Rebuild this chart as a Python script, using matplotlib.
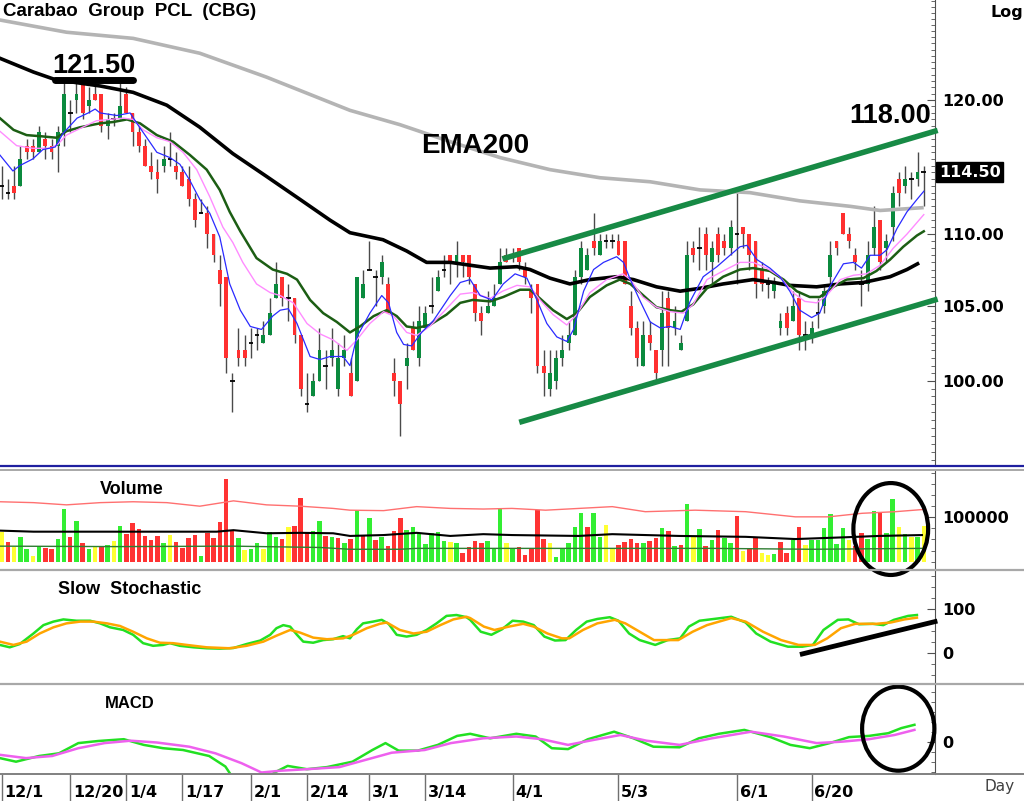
import numpy as np
import matplotlib
matplotlib.use('Agg')
import matplotlib.pyplot as plt
import matplotlib.transforms as mtransforms
from matplotlib.lines import Line2D
from matplotlib.patches import Ellipse
from matplotlib.ticker import MultipleLocator, NullFormatter

# daily candles (price in baht)
opens = [113.5, 113, 113.5, 113.5, 116.5, 116.5, 116, 117, 116.5, 116.5,
         117.5, 119, 120, 121.5, 119.5, 120.5, 120.5, 118, 118.5, 118.5,
         120.5, 119, 117.5, 116.5, 115, 114.5, 115, 115.5, 115, 114.5,
         114, 112.5, 111.5, 111.5, 110, 107.5, 107, 100, 102, 102,
         102.5, 103, 102.5, 103, 105.5, 107, 105.5, 105.5, 103, 98.5,
         99, 100, 101, 101.5, 99.5, 101.5, 100.5, 100, 105.5, 107.5,
         107, 107, 106.5, 100.5, 100, 101, 103.5, 101.5, 103.5, 105,
         106, 107.5, 108.5, 108, 108.5, 108.5, 106.5, 104.5, 104.5, 105,
         106.5, 108.5, 108.5, 109, 107.5, 106, 106.5, 101, 99.5, 100,
         101.5, 102.5, 103, 107, 107.5, 109.5, 108.5, 109.5, 109.5, 109.5,
         109.5, 105, 103.5, 101, 103, 102, 102, 105.5, 103.5, 102,
         104, 109, 109, 110, 108, 110, 109.5, 109, 110, 110.5,
         110, 109.5, 107.5, 106.5, 106, 103.5, 104.5, 104, 105.5, 103,
         103, 104.5, 105, 107, 109.5, 111.5, 110, 108.5, 106.5, 106.5,
         109, 111, 109, 110.5, 114, 113.5, 114, 114, 114.5]
highs = [115, 114, 115, 116.5, 117, 117, 118, 117.5, 117, 118,
         121.5, 120, 121.5, 121.5, 121, 121.5, 120.5, 119, 119, 121.5,
         121, 119, 118, 117, 116, 115.5, 116.5, 117.5, 116, 115,
         115, 113, 112.5, 112, 110, 108.5, 107, 100.5, 103.5, 103,
         103.5, 103.5, 104, 105.5, 108, 107, 106.5, 105.5, 103, 100.5,
         100.5, 103.5, 102, 103.5, 102.5, 103, 101.5, 107, 107.5, 109.5,
         107.5, 108.5, 107, 101.5, 100, 102.5, 104, 105, 105, 107,
         107.5, 108.5, 108.5, 109.5, 108.5, 108.5, 106.5, 105, 106, 106.5,
         109, 109, 109, 109, 108, 106.5, 106.5, 102, 102, 102,
         103, 104, 107.5, 109.5, 109, 111.5, 110, 110, 110, 110,
         109.5, 106, 104, 104, 104, 102, 106, 106, 105, 103,
         109.5, 109.5, 110.5, 110.5, 109.5, 110.5, 110, 111, 113, 110.5,
         110, 109.5, 108, 107, 107, 104.5, 105, 106, 106, 104,
         104, 105.5, 106.5, 109.5, 109.5, 111.5, 110.5, 109, 107.5, 109.5,
         112, 111, 110, 113.5, 114.5, 115, 114.5, 116, 115]
lows = [112.5, 112.5, 112.5, 113.5, 115.5, 115.5, 116, 115.5, 115.5, 114.5,
        116.5, 117.5, 119, 118.5, 119, 120, 117.5, 117, 118, 118.5,
        119, 116.5, 116, 115, 114, 113, 114.5, 115, 114, 113.5,
        112, 110.5, 111.5, 109, 108, 105, 100.5, 98, 101, 101,
        101.5, 102, 102.5, 103, 105.5, 105, 104, 102.5, 99, 98,
        99, 100, 99.5, 101, 99, 101, 99, 100, 105.5, 107.5,
        105, 106.5, 104.5, 99, 96.5, 99.5, 102, 101, 103.5, 104.5,
        106, 107, 106.5, 107, 107, 106.5, 104, 103, 104.5, 105,
        106.5, 108, 108, 107.5, 106.5, 104.5, 100.5, 99, 99, 99.5,
        101, 102, 103, 106.5, 107.5, 108.5, 108.5, 109, 109, 108.5,
        106.5, 103, 101, 101, 102, 100, 101, 101, 103, 102,
        104, 108, 107.5, 107.5, 106.5, 108, 108.5, 108.5, 106.5, 109,
        107.5, 105.5, 106, 105.5, 105.5, 103, 103, 104, 102, 102,
        102.5, 103.5, 104.5, 106.5, 108.5, 110, 109, 107.5, 105, 106,
        108.5, 107.5, 108, 109.5, 112, 113, 112.5, 113.5, 112]
closes = [113.5, 113, 113, 115.5, 116, 116, 117.5, 116.5, 116, 117.5,
          120.5, 119, 120.5, 119, 120, 120, 118, 118.5, 118.5, 119.5,
          119, 117.5, 116.5, 115, 114.5, 114, 115.5, 115.5, 114.5, 113.5,
          112.5, 111, 111.5, 110, 108.5, 106.5, 101.5, 100, 101.5, 101.5,
          102.5, 103, 103, 104.5, 106.5, 105.5, 105.5, 103, 99.5, 98.5,
          100, 102, 101, 102, 101.5, 102, 99, 107, 106.5, 107.5,
          107, 108, 104.5, 100, 98.5, 101.5, 102, 104, 104.5, 105,
          107, 107.5, 108, 108.5, 108, 107, 104.5, 104, 105, 105.5,
          108, 108, 108.5, 108, 107, 105.5, 101, 100.5, 100.5, 101.5,
          102, 103, 107, 109, 108.5, 109, 109.5, 109.5, 109.5, 108.5,
          106.5, 103.5, 101.5, 103, 102.5, 100.5, 104.5, 103.5, 104, 102.5,
          108.5, 108.5, 109, 108.5, 109, 108.5, 109, 110.5, 110, 110,
          108.5, 106.5, 106.5, 106.5, 106.5, 104, 103.5, 105, 103, 103,
          103.5, 104.5, 106, 108.5, 109, 110, 109.5, 108, 106.5, 108.5,
          110.5, 108, 109.5, 113, 113, 114, 114, 114.5, 114.5]

# volume in thousands of shares, with the bar colour code (g up, r down, y unchanged)
volume_k = [67.6, 45, 32, 56, 28, 13.5, 32, 31.5, 28.5, 51,
            118.6, 55, 91, 43, 28.5, 32, 35, 37.5, 46.5, 80,
            61.5, 87, 73, 57, 49, 58, 43, 60, 45, 31.5,
            52.5, 60, 12.8, 65, 52.5, 90, 185.4, 71, 52.5, 26,
            28.5, 41, 28.5, 66, 55, 50, 79, 81, 142.6, 67.6,
            69, 91, 58, 56, 52.5, 43, 50, 116, 58, 97.6,
            49, 55, 35, 69, 97.6, 71, 79, 64, 39, 65,
            67.6, 47, 43.5, 41, 19, 32, 47, 43, 47, 30,
            120, 43, 30, 32, 15, 28, 116, 51, 41, 11,
            28, 43, 79, 109, 79, 110, 56, 82.6, 30, 37.5,
            45, 51, 41, 43, 46.5, 52.5, 75, 69, 35, 37.5,
            130, 55, 73.6, 35, 49, 71, 54, 41, 103, 25,
            30, 55, 19, 15, 17, 45, 20, 49, 79, 37.5,
            49, 49, 75, 107, 39, 77, 49, 35, 64, 51,
            114, 109, 65, 141, 79, 62, 55, 56, 80]
volume_tone = ''.join([
    'yryggygrrg', 'grgrgyrgyg', 'rrrrrrgyrr', 'rrgrrrrrgy', 'ggyggryrrr',
    'ggrgrgrgrg', 'rgrrrggggg', 'ggygrrrrgg', 'gy',
    'grrrrryggg', 'ggrggyyrrr', 'rgrrgrgrgy', 'grgrggryrr', 'yygrrgrygg',
    'ggggyrrggr', 'ggygygy'])

# moving averages on the price panel: (bar position, price)
blue_x = [-0.3, 1.8, 2.9, 5.0, 6.6, 8.6, 9.8, 12.1, 13.9, 15.0, 15.8, 18.5, 20.6, 21.7, 23.3,
          24.9, 27.0, 28.6, 30.2, 31.8, 33.4, 35.0, 36.6, 38.3, 39.9, 41.7, 43.5, 44.7, 46.0,
          47.4, 49.5, 51.1, 52.7, 54.8, 55.9, 57.0, 59.1, 61.0, 62.1, 63.4, 64.5, 65.8, 67.4,
          69.3, 72.0, 73.6, 75.2, 76.8, 78.7, 80.5, 82.4, 84.3, 85.9, 87.5, 89.1, 90.7, 91.8,
          93.4, 95.0, 96.6, 98.7, 99.8, 100.9, 102.5, 104.1, 105.7, 107.3, 108.9, 110.5, 112.6,
          114.8, 116.9, 118.5, 119.6, 121.2, 123.3, 124.9, 126.5, 128.1, 130.0, 131.3, 132.9,
          135.1, 136.7, 138.0, 139.4, 141.0, 142.1, 143.7, 145.3, 146.9, 148.0]
blue_y = [115.8, 114.6, 115, 115.5, 116.2, 116.4, 117.4, 118.6, 119, 119.3, 119, 118.8, 119, 118.2,
          117.1, 116, 115.6, 115.1, 113.9, 112.5, 111.5, 109.8, 106.5, 104.7, 103.6, 103.4, 104.3,
          104.7, 104.8, 103.8, 101.6, 101.4, 101.6, 101.6, 101, 102.9, 104.5, 105.7, 105.2, 103.2,
          102.4, 102.3, 103.2, 104, 105.7, 106.6, 106.8, 105.7, 105.4, 106.5, 107.2, 106.9, 105.4,
          103.8, 102.9, 102.6, 103.4, 106, 107.5, 108, 108.4, 108, 106.8, 105.3, 103.9, 103.5,
          103.6, 103.4, 105.3, 107, 107.7, 108.5, 109.1, 109.2, 108.2, 107.6, 107, 106, 104.7,
          104.2, 104.5, 106.3, 107.9, 108, 107.6, 108.5, 108.5, 108.9, 110.4, 111.6, 112.5, 113.1]
pink_x = [-0.3, 2.4, 5.0, 7.8, 9.0, 10.4, 13.0, 15.2, 17.4, 19.5, 21.1, 22.7, 24.9, 27.0, 29.1,
          31.3, 33.4, 35.5, 37.1, 38.7, 40.9, 43.1, 44.7, 46.8, 49.0, 51.1, 53.2, 55.4, 57.0,
          59.1, 61.3, 62.9, 65.0, 66.6, 68.7, 71.4, 73.6, 75.6, 78.4, 80.4, 82.7, 84.8, 86.4,
          88.5, 90.7, 92.3, 94.4, 97.1, 99.7, 100.9, 102.9, 105.1, 107.3, 109.4, 111.0, 113.2,
          115.8, 118.5, 120.6, 122.8, 124.9, 127.0, 128.9, 130.8, 132.4, 134.6, 136.7, 138.8,
          141.0, 143.1, 145.3, 148.0]
pink_y = [117.6, 116.5, 116.3, 116.3, 116.6, 117.3, 117.9, 118.4, 118.5, 118.6, 118.5, 117.7,
          117.1, 116.8, 116, 114.7, 112.7, 110.5, 109.4, 108, 106.5, 105.9, 105.7, 105.2, 103.8,
          103.1, 102.7, 102, 102.7, 103.8, 104.6, 104.3, 103.2, 103, 103.6, 104.8, 105.8, 105.9,
          105.5, 106, 106.4, 106.3, 105.4, 104.4, 103.7, 104.4, 105.9, 106.8, 107.2, 106.8, 105.6,
          104.9, 104.6, 104.5, 105.1, 106.8, 107.4, 108, 108, 107.6, 107, 105.9, 105.3, 105.2,
          105.7, 106.8, 107.1, 107.2, 107.8, 109, 110, 111.4]
green_x = [-0.3, 1.9, 4.0, 6.6, 8.8, 10.4, 12.6, 15.8, 17.9, 20.1, 22.2, 24.9, 27.5, 30.2, 32.9,
           35.0, 36.6, 38.3, 40.9, 43.5, 45.8, 47.4, 49.5, 51.6, 53.8, 55.9, 57.5, 59.7, 61.8,
           63.4, 65.0, 66.6, 68.7, 71.4, 73.6, 75.6, 78.4, 80.5, 83.2, 84.8, 86.4, 88.5, 90.7,
           92.3, 94.4, 97.1, 99.2, 100.9, 103.0, 105.1, 107.3, 109.1, 111.0, 113.2, 115.8, 118.5,
           120.6, 123.3, 125.5, 127.6, 129.7, 131.3, 133.5, 135.6, 138.3, 140.4, 142.6, 144.7,
           146.9, 148.0]
green_y = [118.6, 117.7, 117.3, 117.2, 117.1, 117.6, 117.9, 118.2, 118.3, 118.5, 118.2, 117.3,
           116.8, 115.8, 114.7, 113.2, 111.6, 110.2, 108.3, 107.5, 107.2, 106.8, 105.4, 104.5,
           103.9, 103.2, 103.6, 104.3, 104.7, 104.3, 103.6, 103.5, 103.7, 104.4, 105.2, 105.4,
           105.3, 105.6, 106.1, 106.1, 105.5, 104.7, 104.1, 104.5, 105.6, 106.4, 106.8, 106.5,
           105.7, 104.9, 104.7, 104.6, 105.1, 106.2, 107, 107.5, 107.6, 107.4, 106.8, 106, 105.6,
           105.6, 106.3, 106.8, 106.9, 107.4, 108.2, 109.1, 109.9, 110.2]
black_x = [-0.3, 5.1, 8.6, 15.8, 21.1, 26.5, 31.8, 37.1, 42.5, 47.9, 52.7, 55.9, 61.2, 65.0, 68.2,
           72.0, 75.2, 78.4, 82.7, 84.8, 88.0, 91.2, 94.4, 98.7, 101.4, 105.1, 108.9, 112.1,
           115.8, 120.6, 123.9, 126.5, 130.8, 134.6, 138.3, 142.6, 145.3, 147.0]
black_y = [123.3, 122.2, 121.6, 121.1, 120.6, 119.6, 117.9, 115.9, 114.2, 112.5, 111, 110.1,
           109.6, 108.8, 108, 108, 107.8, 107.6, 107.7, 107.5, 106.9, 106.5, 106.8, 107, 106.8,
           106.3, 106, 106.2, 106.5, 106.8, 106.6, 106.4, 106.3, 106.5, 106.6, 107, 107.5, 107.9]
ema200_x = [-0.3, 10.4, 21.1, 31.8, 42.5, 55.9, 63.9, 72.0, 80.0, 88.0, 96.0, 104.1, 112.1,
            120.1, 128.1, 136.2, 141.0, 147.7]
ema200_y = [126.4, 125.4, 124.9, 123.7, 121.8, 119.2, 118.1, 116.8, 115.6, 114.7, 114.1, 113.8,
            113.2, 113, 112.4, 112, 111.7, 111.9]

# volume averages (thousands)
vol_red_x = [-0.3, 5.1, 10.4, 15.8, 21.1, 26.5, 31.8, 37.2, 42.5, 47.9, 53.2, 55.9, 61.3, 66.6,
             72.0, 77.3, 81.9, 87.3, 98.0, 103.3, 111.3, 119.4, 127.4, 132.7, 138.1, 143.4, 148.3]
vol_red_y = [135, 133, 128, 133, 135, 133, 125, 137, 128, 125, 120, 116, 115, 124, 120, 118.6,
             120, 116, 124, 112.6, 116, 112.6, 101, 101, 109, 112.6, 118]
vol_black_x = [-0.3, 5.1, 15.8, 26.5, 34.5, 37.2, 42.5, 47.9, 53.2, 55.9, 61.3, 66.6, 72.0, 77.3,
               81.9, 92.6, 98.0, 108.7, 119.4, 127.4, 135.4, 140.8, 147.7]
vol_black_y = [70, 67.6, 67.6, 67.6, 67.6, 71, 64, 65, 64, 58, 60, 65, 58, 62, 60, 58, 62, 58,
               56, 51, 55, 58, 60]
vol_green_x = [-0.3, 18.5, 37.2, 51.1, 55.9, 63.9, 66.6, 81.6, 98.0, 114.0, 130.1, 147.7]
vol_green_y = [35, 34, 35, 32, 28, 28, 30, 30, 30, 30, 28, 30]

# slow stochastic %K / %D
stoch_k_x = [-0.3, 1.3, 2.9, 5.1, 6.7, 8.3, 9.9, 12.0, 14.2, 15.8, 17.4, 19.5, 21.1, 22.7, 24.3,
             25.9, 27.0, 28.6, 30.8, 32.9, 35.0, 37.2, 39.3, 41.5, 43.1, 44.1, 45.2, 46.3, 47.4,
             48.4, 50.0, 51.6, 53.2, 54.8, 55.9, 57.0, 58.0, 59.6, 61.0, 62.1, 63.4, 65.0, 66.6,
             68.2, 69.8, 71.4, 73.0, 74.6, 75.2, 76.9, 78.6, 80.3, 82.0, 83.7, 85.4, 87.1, 88.8,
             90.5, 92.2, 93.9, 95.6, 97.6, 99.0, 100.7, 102.4, 104.9, 106.9, 108.9, 110.3, 112.0,
             114.3, 117.1, 119.4, 121.1, 123.4, 126.2, 128.5, 130.2, 131.9, 134.2, 135.9, 137.6,
             139.8, 141.5, 143.2, 145.5, 146.9]
stoch_k = [19, 13.6, 21, 45, 64, 72, 77, 74, 74, 68, 59, 53, 42, 23, 17, 19, 23, 17, 13.6, 11.4,
           10.6, 12, 21, 29, 42, 57, 64, 60.6, 42, 26.5, 24, 30, 32, 39, 34, 54.5, 68, 72, 76, 67,
           42, 38, 42, 53, 68, 85, 87, 82, 76, 49, 42, 54.5, 74, 72, 64, 38, 29, 30, 53, 72, 78, 82,
           74, 45, 30, 19, 30, 34, 60.6, 74, 78, 83, 70, 45, 26.5, 15, 15, 19, 53, 76, 77, 66, 67,
           64, 76, 85, 87]
stoch_d_x = [-0.3, 1.9, 4.0, 6.1, 8.3, 10.4, 12.6, 14.7, 16.9, 19.0, 21.1, 23.3, 25.4, 27.5, 29.7,
             32.9, 36.6, 39.3, 42.0, 44.1, 46.3, 47.9, 50.0, 52.2, 54.8, 56.4, 58.6, 60.7, 61.8,
             63.9, 66.1, 68.2, 70.4, 72.5, 74.6, 75.2, 77.4, 79.1, 81.4, 83.7, 85.4, 87.6, 89.9,
             91.1, 93.3, 95.6, 98.4, 100.1, 102.4, 104.7, 108.6, 110.9, 113.2, 117.1, 119.4, 122.2,
             125.1, 127.9, 130.5, 132.5, 134.7, 137.0, 140.4, 142.7, 144.9, 146.9]
stoch_d = [26.5, 19, 26.5, 45, 59, 68, 72, 72, 68, 62, 49, 34, 24, 23, 19, 13.6, 11.4, 17, 26.5,
           40, 53, 47, 35.6, 32, 34, 42, 57, 67, 70, 53, 45, 49, 64, 77, 83, 80, 60.6, 53, 60.6,
           67, 60.6, 45, 34, 34, 53, 68, 76, 68, 49, 30, 30, 49, 64, 80, 72, 49, 30, 19, 19, 34,
           57, 67, 67, 70, 77, 81]

# MACD and signal line
macd_x = [-0.3, 2.3, 6.0, 9.2, 12.3, 15.5, 19.6, 22.8, 25.9, 29.1, 33.3, 35.9, 37.4, 40.7, 43.8,
          45.9, 49.0, 52.2, 56.3, 59.5, 61.6, 63.7, 66.8, 70.0, 73.1, 75.2, 78.4, 82.6, 85.7,
          88.3, 90.9, 94.1, 98.3, 101.4, 104.6, 108.8, 111.9, 115.1, 119.2, 123.4, 126.6, 129.7,
          132.9, 136.0, 139.2, 142.3, 144.4, 146.5]
macd = [-0.55, -0.67, -0.48, -0.39, -0.05, 0.02, 0.08, -0.11, -0.22, -0.28, -0.48, -0.83, -1.3,
        -1.5, -1.03, -0.81, -0.92, -0.85, -0.67, -0.28, -0.05, -0.3, -0.3, -0.11, 0.19, 0.26,
        0.11, 0.26, 0.17, -0.22, -0.25, 0.08, 0.33, 0.11, -0.17, -0.19, 0.11, 0.26, 0.39, 0.15,
        -0.11, -0.22, -0.05, 0.15, 0.19, 0.28, 0.45, 0.56]
signal_x = [-0.3, 3.9, 8.1, 12.3, 16.5, 20.7, 24.9, 30.1, 34.3, 38.5, 41.7, 44.8, 49.0, 54.2,
            58.4, 62.6, 67.9, 72.1, 77.3, 82.6, 86.7, 90.9, 95.1, 99.3, 103.5, 108.8, 114.0,
            120.3, 125.5, 130.8, 135.0, 139.2, 143.3, 146.5]
signal = [-0.44, -0.55, -0.48, -0.22, -0.05, 0.03, -0.03, -0.17, -0.39, -0.72, -1.03, -0.97,
          -0.92, -0.85, -0.61, -0.37, -0.28, -0.05, 0.11, 0.17, 0.08, -0.11, 0.06, 0.22, 0.03,
          -0.11, 0.11, 0.33, 0.17, -0.05, 0.0, 0.08, 0.22, 0.39]

date_pos = [0, 11, 20, 29, 40, 49, 59, 68, 82, 99, 118, 130]
date_labels = ['12/1', '12/20', '1/4', '1/17', '2/1', '2/14', '3/1', '3/14', '4/1', '5/3', '6/1', '6/20']

# hand-drawn annotations, in chart units
channel_upper = ([80.8, 149.8], [108.3, 117.6])
channel_lower = ([83.5, 149.8], [97.4, 105.4])
stoch_trend = ([128.5, 149.8], [-1.5, 72])

plt.rcParams['font.family'] = 'DejaVu Sans'
plt.rcParams['font.weight'] = 'bold'

W, H = 1024, 801
fig = plt.figure(figsize=(W / 100, H / 100), dpi=100)


def panel(top, bottom):
    ax = fig.add_axes([0, 1 - bottom / H, 935 / W, (bottom - top) / H])
    ax.set_facecolor('none')
    for s in ('top', 'left', 'bottom'):
        ax.spines[s].set_visible(False)
    ax.spines['right'].set_color('#505050')
    ax.yaxis.tick_right()
    ax.tick_params(axis='y', which='major', direction='in', length=6, pad=5.5,
                   labelsize=11.5, colors='#505050', labelcolor='black')
    ax.tick_params(axis='y', which='minor', direction='in', length=3, colors='#505050')
    ax.tick_params(axis='x', bottom=False, labelbottom=False)
    ax.set_xlim(-0.27, 149.8)
    return ax


ax = panel(0, 466)
axv = panel(470, 570)
axs = panel(570, 684)
axm = panel(684, 774)

# ---- price panel
bars = np.arange(len(closes))
o, hi, lo, c = map(np.array, (opens, highs, lows, closes))
up, dn, flat = c > o, c < o, c == o
ax.set_yscale('log')
ax.vlines(bars, lo, hi, color='#4a4a4a', lw=1, zorder=2)
ax.bar(bars[up], (c - o)[up], bottom=o[up], width=0.62, color='#0b8a3e', zorder=3)
ax.bar(bars[dn], (o - c)[dn], bottom=c[dn], width=0.62, color='#ff3030', zorder=3)
ax.hlines(c[flat], bars[flat] - 0.38, bars[flat] + 0.38, color='black', lw=1.3, zorder=3)

ax.plot(ema200_x, ema200_y, color='#b4b4b4', lw=2.6, zorder=4)
ax.plot(black_x, black_y, color='black', lw=2.6, zorder=4)
ax.plot(green_x, green_y, color='#1c5e14', lw=1.8, zorder=4)
ax.plot(pink_x, pink_y, color='#ff8cff', lw=1.0, zorder=4)
ax.plot(blue_x, blue_y, color='#2a2aff', lw=0.9, zorder=4)

ax.plot(*channel_upper, color='#178a45', lw=4, zorder=5, clip_on=False)
ax.plot(*channel_lower, color='#178a45', lw=4, zorder=5, clip_on=False)
ax.plot([8.6, 21.1], [121.6, 121.6], color='black', lw=5, solid_capstyle='round', zorder=5)
ax.text(14.8, 122.7, '121.50', ha='center', va='center', family='Liberation Sans', size=19.5,
        zorder=7)
ax.text(76, 116.5, 'EMA200', ha='center', va='center', family='Liberation Sans', size=20,
        zorder=7)
ax.text(142.6, 118.8, '118.00', ha='center', va='center', family='Liberation Sans', size=19.5,
        zorder=7)

ax.set_ylim(94.63, 128.05)
ax.set_yticks([100, 105, 110, 120], ['100.00', '105.00', '110.00', '120.00'])
ax.set_yticks(np.arange(95, 128.5, 0.5), minor=True)
ax.yaxis.set_minor_formatter(NullFormatter())
last_tf = mtransforms.blended_transform_factory(ax.transAxes, ax.transData)
ax.text(1.004, closes[-1], f'{closes[-1]:.2f}', transform=last_tf, color='white', size=11.5,
        va='center', ha='left', zorder=7,
        bbox=dict(facecolor='black', edgecolor='black', boxstyle='square,pad=0.15'))

# ---- volume panel
vol = np.array(volume_k) * 1000
tone = {'g': '#33ee33', 'r': '#ff3333', 'y': '#ffff33'}
axv.bar(bars, vol, width=0.72, color=[tone[t] for t in volume_tone], zorder=2)
axv.plot(vol_red_x, np.array(vol_red_y) * 1000, color='#ff7070', lw=1.0, zorder=3)
axv.plot(vol_black_x, np.array(vol_black_y) * 1000, color='black', lw=1.5, zorder=3)
axv.plot(vol_green_x, np.array(vol_green_y) * 1000, color='#2e7d32', lw=1.0, zorder=3)
axv.add_patch(Ellipse((142.7, 73600), 12, 207000, fill=False, lw=3, color='black',
                      clip_on=False, zorder=6))
axv.set_ylim(-18700, 206500)
axv.set_yticks([100000], ['100000'])
axv.yaxis.set_minor_locator(MultipleLocator(25000))

# ---- stochastic panel
axs.plot(stoch_k_x, stoch_k, color='#22e022', lw=1.8)
axs.plot(stoch_d_x, stoch_d, color='#ffa500', lw=1.8)
axs.plot(*stoch_trend, color='black', lw=3.5, clip_on=False, zorder=5)
axs.set_ylim(-69.8, 189.3)
axs.set_yticks([0, 100], ['0', '100'])
axs.yaxis.set_minor_locator(MultipleLocator(25))

# ---- MACD panel
axm.plot(macd_x, macd, color='#22e022', lw=1.8)
axm.plot(signal_x, signal, color='#ee60ee', lw=1.8)
axm.add_patch(Ellipse((143.9, 0.43), 11.6, 2.8, fill=False, lw=3, color='black',
                      clip_on=False, zorder=6))
axm.set_ylim(-1.08, 1.92)
axm.set_yticks([0], ['0'])
axm.yaxis.set_minor_locator(MultipleLocator(1 / 3))
axm.set_xticks(date_pos, date_labels)
axm.tick_params(axis='x', bottom=True, labelbottom=True, direction='out', length=19.5,
                width=1, color='#707070', labelsize=11.5, pad=-11.5)
shift = mtransforms.ScaledTranslation(2 / 72, 0, fig.dpi_scale_trans)
for lbl in axm.get_xticklabels():
    lbl.set_horizontalalignment('left')
    lbl.set_transform(lbl.get_transform() + shift)

# separators and captions
for y, col, lw in [(466, '#1f1f9f', 1.6), (470, '#a8a8a8', 1.4), (570, '#a8a8a8', 1.6),
                   (684, '#a8a8a8', 1.6), (774, '#808080', 1.4)]:
    fig.add_artist(Line2D([0, 1], [1 - y / H] * 2, color=col, lw=lw))

fig.text(3 / W, 1 - 12 / H, 'Carabao  Group  PCL  (CBG)', family='Liberation Sans',
         size=13.5, va='center')
fig.text(990 / W, 1 - 12 / H, 'Log', size=11.5, va='center')
fig.text(100 / W, 1 - 489 / H, 'Volume', family='Liberation Sans', size=13, va='center')
fig.text(58 / W, 1 - 590 / H, 'Slow  Stochastic', family='Liberation Sans', size=13, va='center')
fig.text(105 / W, 1 - 703 / H, 'MACD', family='Liberation Sans', size=12, va='center')
fig.text(985 / W, 1 - 787 / H, 'Day', size=11, weight='normal', color='#404040', va='center')

fig.savefig('out.png', dpi=100)
